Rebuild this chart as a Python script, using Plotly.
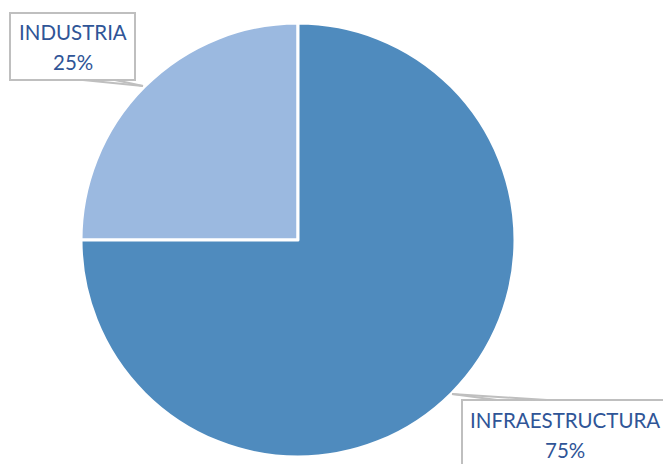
import plotly.graph_objects as go

labels = ["INDUSTRIA", "INFRAESTRUCTURA"]
values = [25, 75]
colors = ["#9BB9E0", "#4F8BBE"]

W, H = 663, 464

def px(x):
    return x / W

def py(y):
    return 1 - y / H

fig = go.Figure()
fig.add_trace(go.Pie(
    labels=labels, values=values, sort=False, direction="clockwise",
    rotation=270, textinfo="none", hoverinfo="label+percent",
    marker=dict(colors=colors, line=dict(color="white", width=3)),
    domain=dict(x=[px(81), px(515)], y=[py(457), py(23)]),
    showlegend=False,
))

grey = "#BFBFBF"
txt = "#2F5597"
font = dict(family="Lato, Liberation Sans, sans-serif", size=20.5, color=txt)

shapes = [
    dict(type="rect", xref="paper", yref="paper", x0=px(10), x1=px(135), y0=py(80), y1=py(13),
         line=dict(color=grey, width=2), fillcolor="white", layer="above"),
    dict(type="line", xref="paper", yref="paper", x0=px(83), y0=py(80), x1=px(143), y1=py(86),
         line=dict(color=grey, width=2)),
    dict(type="line", xref="paper", yref="paper", x0=px(115), y0=py(80), x1=px(143), y1=py(86),
         line=dict(color=grey, width=2)),
    dict(type="rect", xref="paper", yref="paper", x0=px(462), x1=px(680), y0=py(480), y1=py(400),
         line=dict(color=grey, width=2), fillcolor="white", layer="above"),
    dict(type="line", xref="paper", yref="paper", x0=px(452), y0=py(394), x1=px(547), y1=py(400),
         line=dict(color=grey, width=2)),
    dict(type="line", xref="paper", yref="paper", x0=px(452), y0=py(394), x1=px(497), y1=py(400),
         line=dict(color=grey, width=2)),
]

ann = []
pct = [round(v * 100 / sum(values)) for v in values]
pos = [(73, 32, 62), (565, 420, 450)]
for lab, p, (cx, y1, y2) in zip(labels, pct, pos):
    ann.append(dict(xref="paper", yref="paper", x=px(cx), y=py(y1), text=lab, showarrow=False,
                    font=font, xanchor="center", yanchor="middle"))
    ann.append(dict(xref="paper", yref="paper", x=px(cx), y=py(y2), text=f"{p}%", showarrow=False,
                    font=font, xanchor="center", yanchor="middle"))

fig.update_layout(
    width=W, height=H, margin=dict(l=0, r=0, t=0, b=0),
    paper_bgcolor="white", plot_bgcolor="white",
    shapes=shapes, annotations=ann,
)

fig.write_html("out.html", config={"displayModeBar": False},
               post_script="document.body.style.margin='0';")
